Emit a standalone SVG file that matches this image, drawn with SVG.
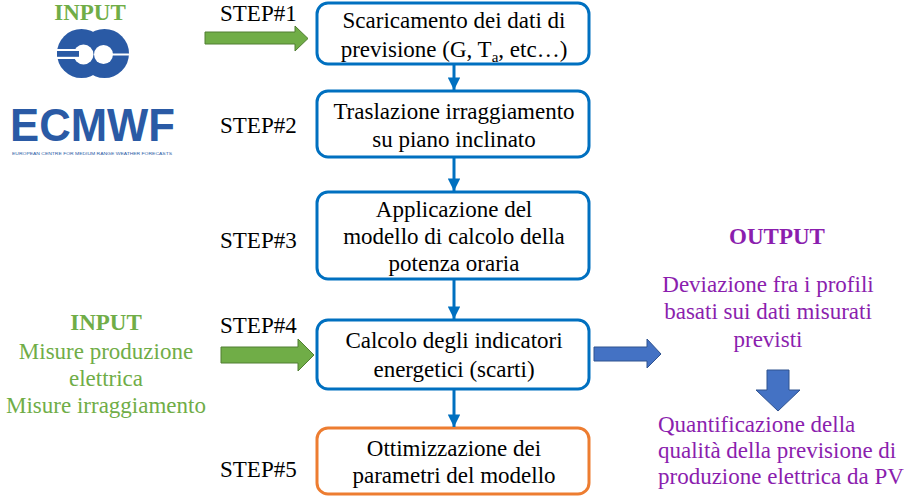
<svg xmlns="http://www.w3.org/2000/svg" width="907" height="497" viewBox="0 0 907 497">
<style>
  .t { font-family: "Liberation Serif", "Times New Roman", serif; font-size: 23px; fill: #000; }
  .c { text-anchor: middle; }
  .green { fill: #70AD47; }
  .purple { fill: #8B1EAE; }
  .b { font-weight: bold; }
  .box { fill: #fff; stroke: #0070C0; stroke-width: 3; }
  .obox { fill: #fff; stroke: #ED7D31; stroke-width: 3; }
  .conn { stroke: #0070C0; stroke-width: 3; fill: none; marker-end: url(#ah); }
  .garrow { fill: #70AD47; stroke: #507E32; stroke-width: 1; }
  .barrow { fill: #4472C4; stroke: #2F528F; stroke-width: 1; }
</style>
<defs>
  <marker id="ah" viewBox="0 0 10 10" refX="10" refY="5" markerWidth="4.2" markerHeight="4.2" orient="auto" markerUnits="strokeWidth">
    <path d="M0,0 L10,5 L0,10 Z" fill="#0070C0"/>
  </marker>
</defs>
<rect width="907" height="497" fill="#fff"/>

<g id="input-ecmwf">
  <text class="t c green b" x="90" y="20">INPUT</text>
  <g id="ecmwf-logo">
    <circle cx="81.5" cy="53.5" r="24.5" fill="#2A5AA5"/>
    <circle cx="104.5" cy="53.5" r="24.5" fill="#2A5AA5"/>
    <circle cx="83.5" cy="54.5" r="10" fill="#fff"/>
    <circle cx="103.5" cy="54.5" r="9.5" fill="#fff"/>
    <rect x="56" y="49" width="28" height="10" fill="#fff"/>
    <rect x="57" y="51" width="22" height="5.8" fill="#2A5AA5"/>
    <rect x="112" y="53.5" width="18" height="2" fill="#fff"/>
    <text x="10" y="141" font-family="Liberation Sans, Arial, sans-serif" font-weight="bold" font-size="46" fill="#2A5AA5" textLength="165" lengthAdjust="spacingAndGlyphs">ECMWF</text>
    <text x="12" y="155" font-family="Liberation Sans, Arial, sans-serif" font-size="4.4" fill="#2A5AA5" textLength="160" lengthAdjust="spacingAndGlyphs">EUROPEAN CENTRE FOR MEDIUM RANGE WEATHER FORECASTS</text>
  </g>
</g>

<g id="input-measures">
  <text class="t c green b" x="106" y="330">INPUT</text>
  <text class="t c green" x="106" y="359">Misure produzione</text>
  <text class="t c green" x="106" y="386">elettrica</text>
  <text class="t c green" x="106" y="413">Misure irraggiamento</text>
</g>

<g id="step-labels">
  <text class="t" x="220" y="21">STEP#1</text>
  <text class="t" x="220" y="133">STEP#2</text>
  <text class="t" x="220" y="248">STEP#3</text>
  <text class="t" x="220" y="333">STEP#4</text>
  <text class="t" x="220" y="477">STEP#5</text>
</g>

<g id="step1">
  <rect class="box" x="317" y="3" width="272" height="61" rx="11"/>
  <text class="t c" x="454" y="28">Scaricamento dei dati di</text>
  <text class="t c" x="454" y="57">previsione (G, T<tspan font-size="15" dy="5">a</tspan><tspan dy="-5">, etc…)</tspan></text>
</g>

<g id="step2">
  <rect class="box" x="317" y="91" width="272" height="66" rx="11"/>
  <text class="t c" x="454" y="119">Traslazione irraggiamento</text>
  <text class="t c" x="454" y="147">su piano inclinato</text>
</g>

<g id="step3">
  <rect class="box" x="317" y="192" width="272" height="87" rx="11"/>
  <text class="t c" x="454" y="217">Applicazione del</text>
  <text class="t c" x="454" y="244">modello di calcolo della</text>
  <text class="t c" x="454" y="271">potenza oraria</text>
</g>

<g id="step4">
  <rect class="box" x="317" y="320" width="272" height="69" rx="11"/>
  <text class="t c" x="454" y="348">Calcolo degli indicatori</text>
  <text class="t c" x="454" y="377">energetici (scarti)</text>
</g>

<g id="step5">
  <rect class="obox" x="317" y="428" width="272" height="66" rx="11"/>
  <text class="t c" x="454" y="456">Ottimizzazione dei</text>
  <text class="t c" x="454" y="483">parametri del modello</text>
</g>

<g id="output">
  <text class="t c purple b" x="777" y="244">OUTPUT</text>
  <text class="t c purple" x="768" y="292">Deviazione fra i profili</text>
  <text class="t c purple" x="768" y="319">basati sui dati misurati</text>
  <text class="t c purple" x="768" y="347">previsti</text>
  <text class="t purple" x="658" y="432">Quantificazione della</text>
  <text class="t purple" x="658" y="458">qualità della previsione di</text>
  <text class="t purple" x="658" y="484">produzione elettrica da PV</text>
</g>

<g id="connectors">
  <line class="conn" x1="454" y1="64" x2="454" y2="90"/>
  <line class="conn" x1="454" y1="157" x2="454" y2="191"/>
  <line class="conn" x1="454" y1="279" x2="454" y2="319"/>
  <line class="conn" x1="454" y1="389" x2="454" y2="427"/>
  <path class="garrow" d="M205,32 L295,32 L295,26 L308,38.5 L295,51 L295,44 L205,44 Z"/>
  <path class="garrow" d="M221,347 L298,347 L298,339 L314,355 L298,371 L298,363 L221,363 Z"/>
  <path class="barrow" d="M594,347 L647,347 L647,339 L661,354 L647,368 L647,361 L594,361 Z"/>
  <path class="barrow" d="M767,370 L789,370 L789,390 L800,390 L778,411 L756,390 L767,390 Z"/>
</g>
</svg>
